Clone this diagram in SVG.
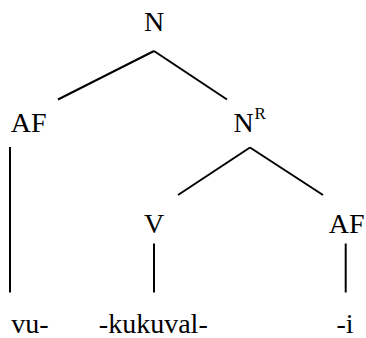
<svg xmlns="http://www.w3.org/2000/svg" width="366" height="338" viewBox="0 0 366 338">
<style>
text{font-family:'Liberation Serif','Times New Roman',serif;font-size:28px;fill:#000;text-anchor:middle}
.start{text-anchor:start}
.sup{font-size:17px;text-anchor:start}
line{stroke:#000;stroke-width:2}
</style>
<rect width="366" height="338" fill="#fff"/>
<g id="connectors">
<line x1="154" y1="51" x2="58" y2="99.5"/>
<line x1="154" y1="51" x2="227" y2="99.5"/>
<line x1="10" y1="147" x2="10" y2="292.5"/>
<line x1="250" y1="147.5" x2="178" y2="195"/>
<line x1="250" y1="147.5" x2="323" y2="195"/>
<line x1="154" y1="243.5" x2="154" y2="292.5"/>
<line x1="345.7" y1="243.5" x2="345.7" y2="292.5"/>
</g>
<g id="n-root"><text x="154" y="31">N</text></g>
<g id="af-left"><text x="28.7" y="131.5">AF</text></g>
<g id="n-r"><text class="start" x="233.5" y="131.5">N</text><text class="sup" x="254.5" y="118.5">R</text></g>
<g id="v"><text x="154" y="233">V</text></g>
<g id="af-right"><text x="346.7" y="233">AF</text></g>
<g id="vu"><text x="30" y="332.5">vu-</text></g>
<g id="kukuval"><text x="153.3" y="332.5">-kukuval-</text></g>
<g id="i"><text x="345" y="332.5">-i</text></g>
</svg>
